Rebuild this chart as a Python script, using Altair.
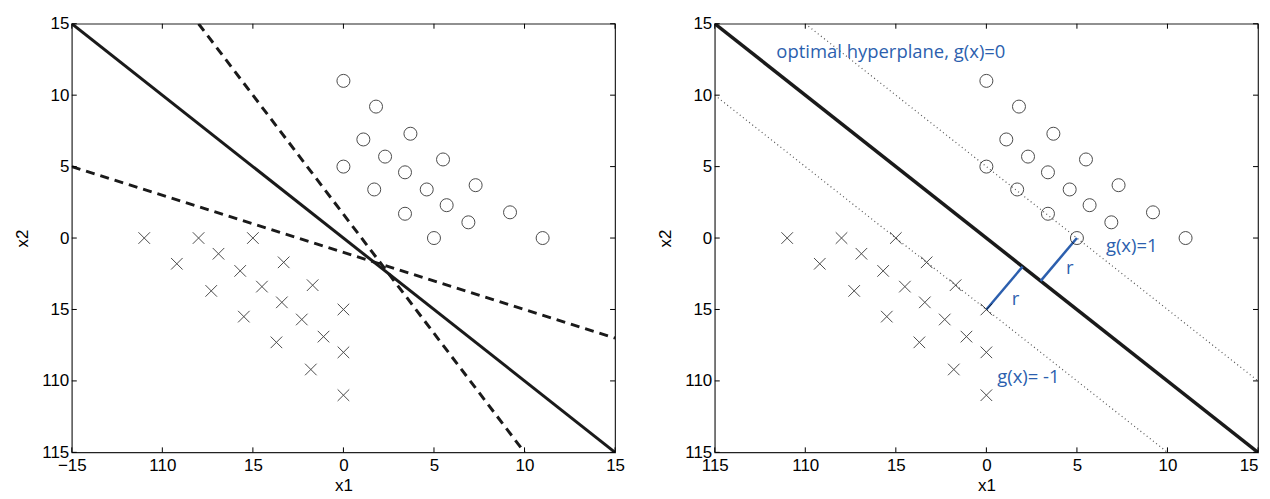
import json
import altair as alt
import pandas as pd

# ---------------- data ----------------
circle_x = [0, 1.8, 1.1, 3.7, 2.3, 5.5, 0, 3.4, 4.6, 7.3, 1.7, 5.7, 6.9, 3.4, 9.2, 5, 11]
circle_y = [11, 9.2, 6.9, 7.3, 5.7, 5.5, 5, 4.6, 3.4, 3.7, 3.4, 2.3, 1.1, 1.7, 1.8, 0, 0]
cross_x = [-11, -8, -5, -9.2, -6.9, -5.7, -3.3, -7.3, -4.5, -1.7, -3.4, 0, -5.5, -2.3, -1.1, -3.7, 0, -1.8, 0]
cross_y = [0, 0, 0, -1.8, -1.1, -2.3, -1.7, -3.7, -3.4, -3.3, -4.5, -5, -5.5, -5.7, -6.9, -7.3, -8, -9.2, -11]

# line endpoints (x1, x2 values)
solid_id = ["s", "s"]
solid_x = [-15, 15]
solid_y = [15, -15]
dashed_id = ["a", "a", "b", "b"]
dashed_x = [-15, 15, -8, 10]
dashed_y = [5, -7, 15, -15]
dotted_id = ["p", "p", "m", "m"]
dotted_x = [-10, 15, -15, 10]
dotted_y = [15, -10, 10, -15]
margin_id = ["r1", "r1", "r2", "r2"]
margin_x = [5, 3, 0, 2]
margin_y = [0, -3, -5, -2]

ann_text = ["optimal hyperplane, g(x)=0", "g(x)=1", "g(x)= -1", "r", "r"]
ann_x = [-11.6, 6.6, 0.6, 4.4, 1.4]
ann_y = [13.0, -0.55, -9.7, -2.1, -4.3]

tick_values = [-15, -10, -5, 0, 5, 10, 15]
y_tick_labels = ["115", "110", "15", "0", "5", "10", "15"]
x_tick_labels_left = ["\u221215", "110", "15", "0", "5", "10", "15"]
x_tick_labels_right = ["115", "110", "15", "0", "5", "10", "15"]

W, H = 545, 430
FONT = "Liberation Sans"
FS = 17
BLUE = "#2c5fae"

circles = pd.DataFrame({"x1": circle_x, "x2": circle_y})
crosses = pd.DataFrame({"x1": cross_x, "x2": cross_y})
solid = pd.DataFrame({"id": solid_id, "x1": solid_x, "x2": solid_y})
dashed = pd.DataFrame({"id": dashed_id, "x1": dashed_x, "x2": dashed_y})
dotted = pd.DataFrame({"id": dotted_id, "x1": dotted_x, "x2": dotted_y})
margins = pd.DataFrame({"id": margin_id, "x1": margin_x, "x2": margin_y})
ann = pd.DataFrame({"t": ann_text, "x1": ann_x, "x2": ann_y})
ticks = pd.DataFrame({"v": tick_values})

sx = alt.Scale(domain=[-15, 15], nice=False, zero=False)
sy = alt.Scale(domain=[-15, 15], nice=False, zero=False)

axis_style = dict(domain=False, ticks=False, tickSize=0, grid=False,
                  labelOverlap=False, labelFlush=False,
                  labelFont=FONT, labelFontSize=FS, labelColor="black",
                  titleFont=FONT, titleFontSize=FS, titleFontWeight="normal",
                  titleColor="black")


def expr(labels):
    return f"{json.dumps(labels)}[indexof({json.dumps(tick_values)}, datum.value)]"


def axis_x(labels, flush_last=False):
    extra = {}
    if flush_last:
        extra["labelAlign"] = {"condition": {"test": "datum.value == 15", "value": "right"},
                               "value": "center"}
    return alt.Axis(values=tick_values, labelExpr=expr(labels), title="x1",
                    labelPadding=5, titlePadding=4, **axis_style, **extra)


def axis_y():
    return alt.Axis(values=tick_values, labelExpr=expr(y_tick_labels), title="x2",
                    labelPadding=3, titlePadding=10, **axis_style)


def base_points(x_labels, flush_last=False):
    X = alt.X("x1:Q", scale=sx, axis=axis_x(x_labels, flush_last))
    Y = alt.Y("x2:Q", scale=sy, axis=axis_y())
    c = alt.Chart(circles).mark_point(shape="circle", filled=False, color="black",
                                      size=170, strokeWidth=1).encode(x=X, y=Y)
    k = alt.Chart(crosses).mark_point(shape="M-1,-1L1,1M-1,1L1,-1", filled=False,
                                      color="black", size=135, strokeWidth=1).encode(
        x=alt.X("x1:Q", scale=sx), y=alt.Y("x2:Q", scale=sy))
    return c, k


def inner_ticks():
    bt = alt.Chart(ticks).mark_rule(color="black", strokeWidth=1).encode(
        x=alt.X("v:Q", scale=sx), y=alt.value(H), y2=alt.value(H - 5))
    tt = alt.Chart(ticks).mark_rule(color="black", strokeWidth=1).encode(
        x=alt.X("v:Q", scale=sx), y=alt.value(0), y2=alt.value(5))
    lt = alt.Chart(ticks).mark_rule(color="black", strokeWidth=1).encode(
        y=alt.Y("v:Q", scale=sy), x=alt.value(0), x2=alt.value(5))
    rt = alt.Chart(ticks).mark_rule(color="black", strokeWidth=1).encode(
        y=alt.Y("v:Q", scale=sy), x=alt.value(W - 5), x2=alt.value(W))
    return [bt, tt, lt, rt]


def lines(df, **kw):
    return alt.Chart(df).mark_line(clip=True, **kw).encode(
        x=alt.X("x1:Q", scale=sx), y=alt.Y("x2:Q", scale=sy), detail="id:N")


# ---------------- left panel ----------------
c, k = base_points(x_tick_labels_left)
left = alt.layer(
    lines(solid, color="#1a1a1a", strokeWidth=3),
    lines(dashed, color="#1a1a1a", strokeWidth=3, strokeDash=[9, 6]),
    c, k, *inner_ticks()
).properties(width=W, height=H)

# ---------------- right panel ----------------
c2, k2 = base_points(x_tick_labels_right, flush_last=True)
texts = alt.Chart(ann).mark_text(align="left", baseline="middle", font="Open Sans",
                                 fontSize=18.5, color=BLUE).encode(
    x=alt.X("x1:Q", scale=sx), y=alt.Y("x2:Q", scale=sy), text="t:N")
right = alt.layer(
    lines(dotted, color="#555555", strokeWidth=1.2, strokeDash=[1, 3]),
    lines(solid, color="#1a1a1a", strokeWidth=3.5),
    lines(margins, color=BLUE, strokeWidth=2.5),
    c2, k2, texts, *inner_ticks()
).properties(width=W, height=H)

chart = alt.hconcat(left, right, spacing=30).properties(
    padding={"left": 5, "top": 5, "right": 2, "bottom": 0}
).configure_view(
    stroke="#222222", strokeWidth=1.2
)

chart.save("out.html", embed_options={"renderer": "svg", "actions": False})
